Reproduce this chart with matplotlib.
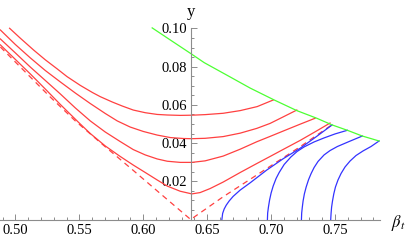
import matplotlib
matplotlib.use("Agg")
import matplotlib.pyplot as plt
from matplotlib.ticker import FixedLocator

plt.rcParams['font.family'] = ['Liberation Serif', 'DejaVu Serif']
plt.rcParams['mathtext.fontset'] = 'stix'

# ---- data (beta_t, y) ----
red1_b = [0.4955, 0.5039, 0.5143, 0.5234, 0.5328, 0.5404, 0.5508, 0.5602, 0.5664, 0.5758, 0.5836,
          0.5922, 0.6016, 0.6109, 0.6188, 0.6289, 0.6380, 0.6484, 0.6625, 0.6758, 0.6891, 0.7018]
red1_y = [0.1001, 0.0949, 0.0887, 0.0836, 0.0788, 0.0748, 0.0702, 0.0665, 0.0643, 0.0615, 0.0594,
          0.0573, 0.0559, 0.0550, 0.0547, 0.0545, 0.0546, 0.0549, 0.0556, 0.0570, 0.0591, 0.0626]

red2_b = [0.4883, 0.5000, 0.5117, 0.5234, 0.5352, 0.5469, 0.5586, 0.5703, 0.5797, 0.5898, 0.6000,
          0.6109, 0.6211, 0.6313, 0.6380, 0.6484, 0.6625, 0.6758, 0.6888, 0.6992, 0.7094, 0.7201]
red2_y = [0.0992, 0.0916, 0.0846, 0.0780, 0.0720, 0.0662, 0.0607, 0.0555, 0.0516, 0.0484, 0.0461,
          0.0442, 0.0429, 0.0424, 0.0423, 0.0425, 0.0434, 0.0452, 0.0477, 0.0503, 0.0537, 0.0573]

red3_b = [0.4883, 0.5000, 0.5117, 0.5234, 0.5352, 0.5469, 0.5586, 0.5703, 0.5820, 0.5922, 0.6016,
          0.6109, 0.6188, 0.6289, 0.6380, 0.6484, 0.6625, 0.6758, 0.6888, 0.6992, 0.7109, 0.7227, 0.7344]
red3_y = [0.0945, 0.0872, 0.0798, 0.0728, 0.0657, 0.0584, 0.0516, 0.0458, 0.0408, 0.0366, 0.0338,
          0.0317, 0.0305, 0.0299, 0.0299, 0.0307, 0.0332, 0.0368, 0.0407, 0.0435, 0.0467, 0.0499, 0.0530]

red4_b = [0.4883, 0.5000, 0.5117, 0.5234, 0.5352, 0.5492, 0.5586, 0.5703, 0.5820, 0.5922, 0.6016,
          0.6109, 0.6188, 0.6289, 0.6380, 0.6445, 0.6523, 0.6625, 0.6758, 0.6888, 0.6992, 0.7109,
          0.7227, 0.7344, 0.7461]
red4_y = [0.0914, 0.0838, 0.0762, 0.0683, 0.0602, 0.0510, 0.0450, 0.0385, 0.0330, 0.0285, 0.0246,
          0.0207, 0.0175, 0.0148, 0.0134, 0.0141, 0.0162, 0.0196, 0.0246, 0.0293, 0.0330, 0.0372,
          0.0414, 0.0459, 0.0505]

dash_b = [0.4883, 0.5078, 0.5273, 0.5469, 0.5664, 0.5922, 0.6133, 0.6371, 0.6625, 0.6888, 0.7227, 0.7484]
dash_y = [0.0903, 0.0772, 0.0641, 0.0516, 0.0403, 0.0257, 0.0136, 0.0000, 0.0119, 0.0233, 0.0381, 0.0500]

blue1_b = [0.6615, 0.6621, 0.6633, 0.6649, 0.6672, 0.6703, 0.6758, 0.6836, 0.6966, 0.7094, 0.7227, 0.7352, 0.7477]
blue1_y = [0.0000, 0.0032, 0.0055, 0.0075, 0.0097, 0.0121, 0.0154, 0.0192, 0.0259, 0.0318, 0.0373, 0.0433, 0.0495]

blue2_b = [0.6971, 0.6973, 0.6979, 0.6988, 0.7000, 0.7016, 0.7039, 0.7063, 0.7102, 0.7154, 0.7203,
           0.7258, 0.7336, 0.7414, 0.7500, 0.7596]
blue2_y = [0.0000, 0.0034, 0.0065, 0.0102, 0.0139, 0.0175, 0.0215, 0.0246, 0.0288, 0.0327, 0.0356,
           0.0380, 0.0406, 0.0427, 0.0448, 0.0467]

blue3_b = [0.7237, 0.7239, 0.7244, 0.7250, 0.7260, 0.7274, 0.7293, 0.7313, 0.7336, 0.7367, 0.7414,
           0.7461, 0.7518, 0.7609, 0.7713]
blue3_y = [0.0000, 0.0034, 0.0065, 0.0097, 0.0134, 0.0170, 0.0209, 0.0241, 0.0272, 0.0304, 0.0338,
           0.0361, 0.0382, 0.0408, 0.0437]

blue4_b = [0.7466, 0.7469, 0.7473, 0.7480, 0.7490, 0.7503, 0.7523, 0.7547, 0.7578, 0.7617, 0.7664,
           0.7719, 0.7781, 0.7844]
blue4_y = [0.0000, 0.0034, 0.0065, 0.0097, 0.0134, 0.0170, 0.0207, 0.0241, 0.0275, 0.0306, 0.0335,
           0.0359, 0.0382, 0.0411]

green_b = [0.6070, 0.6211, 0.6380, 0.6477, 0.6680, 0.6836, 0.7023, 0.7201, 0.7357, 0.7477, 0.7596, 0.7713, 0.7844]
green_y = [0.1003, 0.0940, 0.0865, 0.0821, 0.0746, 0.0688, 0.0626, 0.0570, 0.0530, 0.0495, 0.0467, 0.0437, 0.0411]

x_major = [0.50, 0.55, 0.60, 0.65, 0.70, 0.75]
x_labels = ["0.50", "0.55", "0.60", "0.65", "0.70", "0.75"]
y_major = [0.02, 0.04, 0.06, 0.08, 0.10]
y_labels = ["0.02", "0.04", "0.06", "0.08", "0.10"]

fig = plt.figure(figsize=(4.07, 2.43), dpi=100)
ax = fig.add_axes([0, 0, 1, 1])
ax.set_xlim(0.488, 0.80625)
ax.set_ylim(-0.0123, 0.1149)

red = (1.0, 0.25, 0.25)
lw = 0.9
for b, y in [(red1_b, red1_y), (red2_b, red2_y), (red3_b, red3_y), (red4_b, red4_y)]:
    ax.plot(b, y, color=red, lw=lw, solid_joinstyle='round')
ax.plot(dash_b, dash_y, color=red, lw=lw, ls=(0, (4.5, 3.5)))
for b, y in [(blue1_b, blue1_y), (blue2_b, blue2_y), (blue3_b, blue3_y), (blue4_b, blue4_y)]:
    ax.plot(b, y, color=(0.2, 0.2, 1.0), lw=lw, solid_joinstyle='round')
ax.plot(green_b, green_y, color=(0.3, 1.0, 0.2), lw=lw)

axis_col = (0.55, 0.55, 0.55)
for s in ['top', 'right']:
    ax.spines[s].set_visible(False)
ax.spines['left'].set_position(('data', 0.6375))
ax.spines['bottom'].set_position(('data', 0.0))
ax.spines['left'].set_bounds(0.0, 0.1003)
ax.spines['bottom'].set_bounds(0.488, 0.785)
for s in ['left', 'bottom']:
    ax.spines[s].set_color(axis_col)
    ax.spines[s].set_linewidth(0.8)

ax.xaxis.set_major_locator(FixedLocator(x_major))
ax.set_xticklabels(x_labels)
ax.xaxis.set_minor_locator(FixedLocator([0.49 + 0.01 * i for i in range(30)]))
ax.yaxis.set_major_locator(FixedLocator(y_major))
ax.set_yticklabels(y_labels)
ax.yaxis.set_minor_locator(FixedLocator([0.005 * i for i in range(1, 21)]))

ax.tick_params(which='both', direction='in', color=axis_col, width=0.7,
               labelsize=10.5, labelcolor='black')
ax.tick_params(which='major', length=4, pad=3)
ax.tick_params(which='minor', length=2)

ax.text(0.6375, 0.1088, "y", ha='center', va='center', fontsize=12)
ax.text(0.7935, -0.0020, r"$\beta_t$", ha='left', va='center', fontsize=12)

fig.savefig("out.png", dpi=100)
